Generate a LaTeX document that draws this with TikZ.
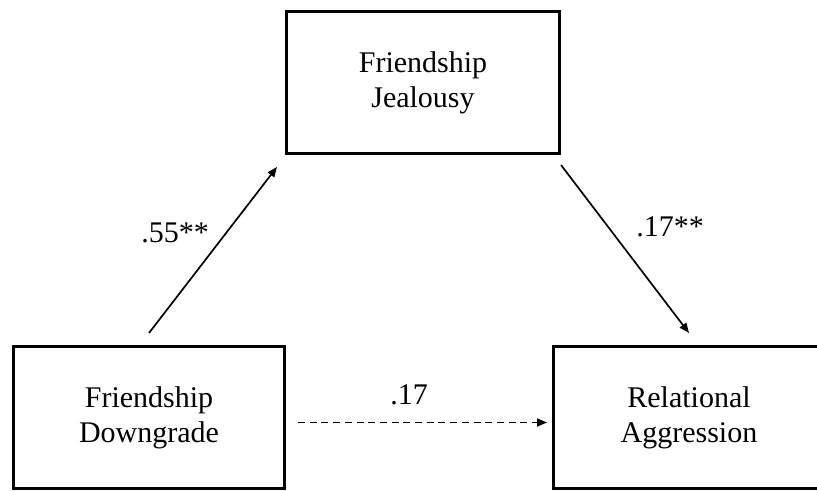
\documentclass[tikz,border=0pt]{standalone}
\usepackage{fontspec}
\setmainfont{Liberation Serif}
\usepackage{tikz}
\usetikzlibrary{arrows.meta, positioning, calc}
\tikzset{
  modelbox/.style={
    draw, line width=3pt, align=center,
    minimum height=142pt, minimum width=271pt,
    font=\fontsize{30}{35}\selectfont, fill=white
  },
  patharrow/.style={-{Triangle[length=10pt,width=8pt]}, line width=1.7pt},
  dasharrow/.style={patharrow, dash pattern=on 7pt off 4.7pt},
  coeflabel/.style={font=\fontsize{30}{35}\selectfont, inner sep=0pt},
}

\begin{document}
\begin{tikzpicture}[x=1pt, y=-1pt]
  \useasboundingbox (0,0) rectangle (817,491);
  \node[modelbox, minimum width=273pt] (jeal) at (423,82.5) {Friendship\\Jealousy};
  \node[modelbox] (downg) at (149,417.5) {Friendship\\Downgrade};
  \node[modelbox] (relagg) at (689,417.5) {Relational\\Aggression};

  \draw[patharrow] ([yshift=12pt]downg.north) -- ([xshift=-8pt,yshift=-12pt]jeal.south west);
  \draw[patharrow] ([yshift=-10pt]jeal.south east) -- ([yshift=12pt]relagg.north);
  \draw[dasharrow] ([shift={(12pt,-5pt)}]downg.east) -- ([shift={(-5pt,-5pt)}]relagg.west);

  \node[coeflabel] (aPath) at (175,233) {.55**};
  \node[coeflabel] (bPath) at (670,227) {.17**};
  \node[coeflabel] (cPath) at (409,395) {.17};
\end{tikzpicture}
\end{document}
